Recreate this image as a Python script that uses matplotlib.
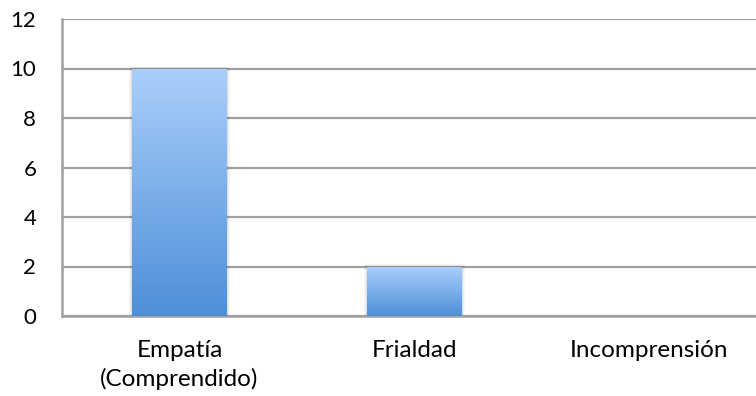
import matplotlib.pyplot as plt
import numpy as np
from matplotlib.colors import LinearSegmentedColormap
from matplotlib.patches import Rectangle

categories = ["Empatía\n(Comprendido)", "Frialdad", "Incomprensión"]
values = [10, 2, 0]
y_ticks = [0, 2, 4, 6, 8, 10, 12]

plt.rcParams["font.family"] = ["Lato", "DejaVu Sans"]

fig = plt.figure(figsize=(7.56, 3.96), dpi=100)
# plot area runs slightly past the right edge of the figure
ax = fig.add_axes([62 / 756, 1 - 316 / 396, 705 / 756, 297 / 396])

x = np.arange(len(categories))
bars = ax.bar(x, values, width=0.404, color="none", zorder=3)

# vertical gradient fill for each bar, light on top, darker at the base
cmap = LinearSegmentedColormap.from_list("blu", ["#4e8fd8", "#aacffb"])
grad = np.linspace(0, 1, 256).reshape(-1, 1)
for b in bars:
    h = b.get_height()
    if h <= 0:
        continue
    x0, w = b.get_x(), b.get_width()
    # soft shadow
    for i, a in enumerate([0.05, 0.04, 0.03]):
        s = Rectangle((x0 - 0.004 * (i + 1), 0), w + 0.008 * (i + 1), h + 0.04 * (i + 1),
                      facecolor="black", alpha=a, edgecolor="none", zorder=2)
        ax.add_patch(s)
    im = ax.imshow(grad, cmap=cmap, origin="lower", aspect="auto",
                   extent=[x0, x0 + w, 0, h], zorder=3)
    clip = Rectangle((x0, 0), w, h, transform=ax.transData)
    im.set_clip_path(clip)

ax.set_xlim(-0.5, len(categories) - 0.5)
ax.set_ylim(0, 12)
ax.set_yticks(y_ticks)
ax.set_xticks(x)
ax.set_xticklabels(categories, linespacing=1.4)
ax.tick_params(axis="y", length=0, pad=18.5, labelsize=16)
ax.tick_params(axis="x", length=0, pad=17, labelsize=17.5)

ax.yaxis.grid(True, color="#a0a0a0", linewidth=1.6, zorder=1)
ax.set_axisbelow(True)
for side in ["top", "right"]:
    ax.spines[side].set_visible(False)
ax.spines["left"].set_color("#a0a0a0")
ax.spines["left"].set_linewidth(1.8)
ax.spines["bottom"].set_color("#a0a0a0")
ax.spines["bottom"].set_linewidth(1.8)

fig.savefig("out.png", dpi=100)
